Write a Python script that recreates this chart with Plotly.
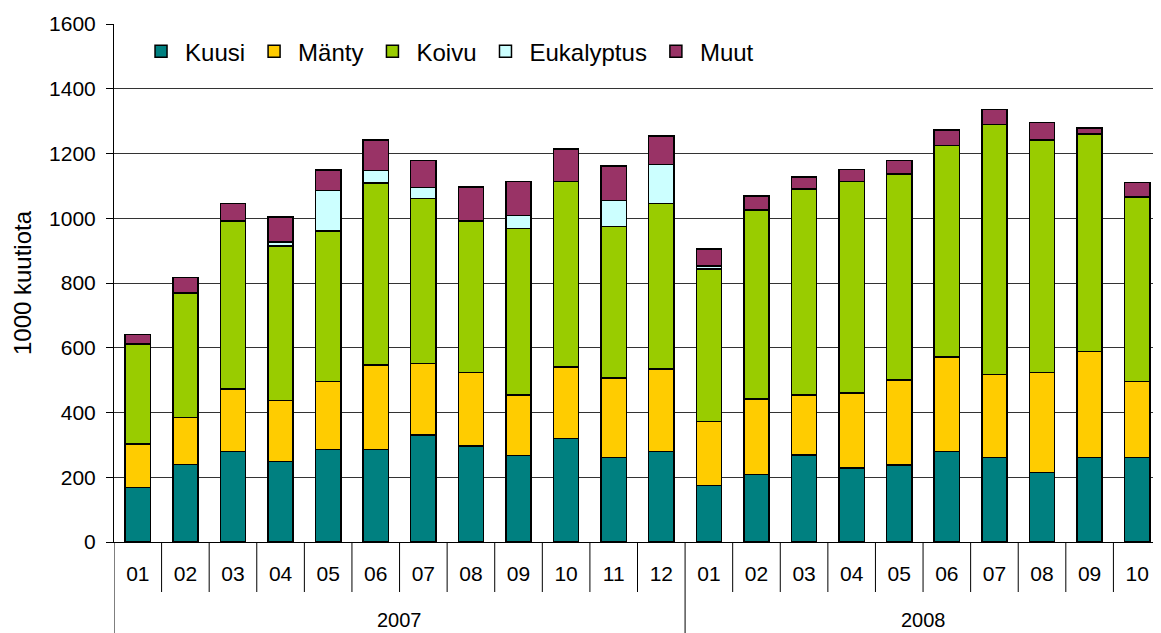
import plotly.graph_objects as go

years = ["2007"] * 12 + ["2008"] * 10
months = ["01", "02", "03", "04", "05", "06", "07", "08", "09", "10", "11", "12",
          "01", "02", "03", "04", "05", "06", "07", "08", "09", "10"]

kuusi = [168, 239, 279, 249, 285, 285, 331, 296, 267, 320, 261, 279,
         174, 209, 268, 228, 238, 279, 261, 215, 261, 261]
mantty = [135, 145, 194, 188, 210, 262, 221, 228, 187, 221, 245, 256,
          198, 233, 186, 232, 262, 292, 257, 309, 327, 234]
koivu = [309, 385, 519, 478, 466, 562, 509, 468, 515, 572, 468, 510,
         472, 584, 636, 654, 636, 654, 771, 717, 672, 571]
eukalyptus = [0, 0, 0, 11, 124, 39, 34, 0, 40, 0, 81, 121,
              8, 0, 0, 0, 0, 0, 0, 0, 0, 0]
muut = [29, 48, 53, 78, 64, 94, 84, 104, 105, 101, 106, 88,
        53, 43, 37, 36, 43, 47, 47, 55, 19, 44]

series = [("Kuusi", kuusi, "#008080"),
          ("Mänty", mantty, "#FFCC00"),
          ("Koivu", koivu, "#99CC00"),
          ("Eukalyptus", eukalyptus, "#CCFFFF"),
          ("Muut", muut, "#993366")]

FONT = "Liberation Sans, Arial, sans-serif"
xs = list(range(len(months)))

W, H = 1153, 625
ML, MT, MB = 106, 16, 91
PH = H - MT - MB

fig = go.Figure()
for name, vals, col in series:
    fig.add_trace(go.Bar(
        x=xs, y=vals, name=name, width=0.53,
        marker=dict(color=col, line=dict(color="black", width=1.5)),
    ))

shapes = []
for i in range(len(months) + 1):
    is_year = i == 0 or i == len(months) or years[i] != years[i - 1]
    shapes.append(dict(type="line", xref="x", yref="paper",
                       x0=i - 0.5, x1=i - 0.5, y0=0,
                       y1=-(MB / PH) if is_year else -(50 / PH),
                       line=dict(color="black", width=1)))

annotations = []
for yr in ["2007", "2008"]:
    idx = [i for i, y in enumerate(years) if y == yr]
    annotations.append(dict(x=(idx[0] + idx[-1]) / 2, y=-(78 / PH), xref="x", yref="paper",
                            yanchor="middle", text=yr, showarrow=False,
                            font=dict(family=FONT, size=20, color="black")))

fig.update_layout(
    barmode="stack",
    width=W, height=H,
    margin=dict(l=ML, r=0, t=MT, b=MB, pad=0),
    plot_bgcolor="white", paper_bgcolor="white",
    font=dict(family=FONT, size=20, color="black"),
    showlegend=True,
    legend=dict(orientation="h", x=0.022, y=0.99, xanchor="left", yanchor="top",
                font=dict(family=FONT, size=24, color="black"),
                bgcolor="rgba(0,0,0,0)", traceorder="normal", itemwidth=38),
    xaxis=dict(range=[-0.5, len(months) - 0.5], tickvals=xs, ticktext=months,
               showgrid=False, zeroline=False, showline=True, linecolor="black",
               linewidth=1, ticks="", tickfont=dict(family=FONT, size=21),
               ticklabelstandoff=13),
    yaxis=dict(range=[0, 1600], dtick=200, showgrid=True, gridcolor="#333333",
               gridwidth=1, zeroline=False, showline=True, linecolor="black",
               linewidth=1, ticks="outside", ticklen=7, tickcolor="black",
               tickfont=dict(family=FONT, size=21), ticklabelstandoff=6,
               title=dict(text="1000 kuutiota", font=dict(family=FONT, size=24),
                          standoff=10)),
    shapes=shapes,
    annotations=annotations,
)

fig.write_html("out.html")
